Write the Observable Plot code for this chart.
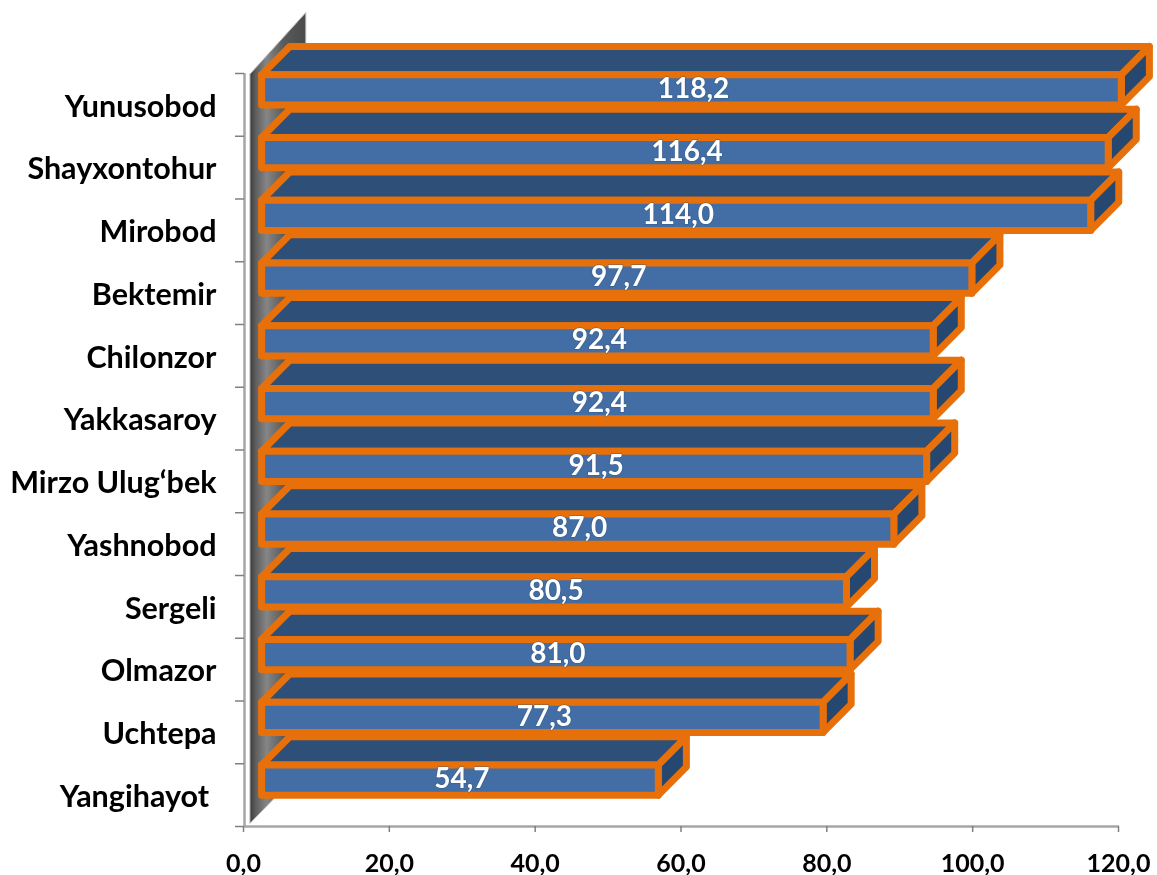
<!DOCTYPE html>
<html><head><meta charset="utf-8">
<script src="https://cdn.jsdelivr.net/npm/d3@7"></script>
<script src="https://cdn.jsdelivr.net/npm/@observablehq/plot@0.6"></script>
<style>
html,body{margin:0;padding:0;background:#fff}
svg{display:block;filter:blur(.4px)}
</style></head><body><div id="chart"></div>
<script>
const categories = ["Yunusobod","Shayxontohur","Mirobod","Bektemir","Chilonzor","Yakkasaroy","Mirzo Ulug‘bek","Yashnobod","Sergeli","Olmazor","Uchtepa","Yangihayot\u00a0"];
const values = [118.2,116.4,114.0,97.7,92.4,92.4,91.5,87.0,80.5,81.0,77.3,54.7];
const xTicks = [0,20,40,60,80,100,120];
const comma = v => v.toFixed(1).replace(".", ",");

// 3-D box geometry in data units
const shiftL = 2.35, shiftR = 2.05, depthX = 3.85, depthY = 0.45, barTop = 0.02, barBot = 0.5;
const poly = (id, pts) => pts.map(([x,y]) => ({id, x, y}));
const bars = values.map((v,i) => ({v, i, l: shiftL, r: v+shiftR, t: i+barTop, b: i+barBot}));
const front = bars.flatMap(b => poly(b.i, [[b.l,b.t],[b.r,b.t],[b.r,b.b],[b.l,b.b],[b.l,b.t]]));
const top3d = bars.flatMap(b => poly(b.i, [[b.l,b.t],[b.l+depthX,b.t-depthY],[b.r+depthX,b.t-depthY],[b.r,b.t],[b.l,b.t]]));
const side = bars.flatMap(b => poly(b.i, [[b.r,b.t],[b.r+depthX,b.t-depthY],[b.r+depthX,b.b-depthY],[b.r,b.b],[b.r,b.t]]));
const wall = poly(0, [[0.75,0.01],[8.4,-0.97],[8.4,11.03],[0.75,11.95],[0.75,0.01]]);

const defs = () => {
  const s = d3.create("svg:defs");
  const g = s.append("linearGradient").attr("id","wallGrad").attr("x1","0").attr("x2","1").attr("y1","0").attr("y2","0");
  [[0,"#3a3a3a"],[0.1,"#5e5e5e"],[0.3,"#858585"],[0.6,"#5a5a5a"],[1,"#4a4a4a"]].forEach(([o,c]) =>
    g.append("stop").attr("offset",o).attr("stop-color",c));
  return s.node();
};

const font = "Lato, 'Open Sans', sans-serif";
const orange = "#E8700A";
const face = (data, fill) => Plot.line(data, {x:"x", y:"y", z:"id", fill, stroke:orange, strokeWidth:7, strokeLinejoin:"round", strokeLinecap:"round"});

const chart = Plot.plot({
  width:1157, height:875, marginTop:73, marginBottom:49, marginLeft:244, marginRight:38,
  style:{background:"#fff", overflow:"visible"},
  x:{domain:[0,120]},
  y:{domain:[0,12], reverse:true},
  marks:[
    defs,
    Plot.line(wall, {x:"x", y:"y", z:"id", fill:"url(#wallGrad)", stroke:"#b5b5b5", strokeWidth:1}),
    Plot.ruleX([0], {y1:0, y2:12, stroke:"#a6a6a6", strokeWidth:2.5}),
    Plot.ruleY([12], {x1:0, x2:120, stroke:"#a6a6a6", strokeWidth:2.5}),
    Plot.axisY({ticks:d3.range(0,13), tickFormat:()=>"", tickSize:9, stroke:"#808080", strokeWidth:1.5, label:null}),
    Plot.axisX({ticks:xTicks, tickFormat:comma, tickSize:6, tickPadding:22, dx:-1, stroke:"#808080", strokeWidth:1.5, label:null, fontSize:25, fontWeight:700, fontFamily:font, fill:"#000", anchor:"bottom"}),
    face(top3d, "#2E5078"),
    face(side, "#264870"),
    face(front, "#436EA5"),
    Plot.text(bars, {x:d=>(d.l+d.r)/2, y:d=>d.i+0.25, dx:2, text:d=>comma(d.v), fill:"#fff", fontSize:28, fontWeight:700, fontFamily:font, textAnchor:"middle", lineAnchor:"middle", stroke:"#2E5078", strokeWidth:1.5, strokeOpacity:.45}),
    Plot.text(categories, {x:0, y:(d,i)=>i+0.53, text:d=>d, dx:-28, textAnchor:"end", lineAnchor:"middle", fill:"#000", fontSize:30.5, fontWeight:700, fontFamily:font})
  ]
});
document.getElementById("chart").append(chart);
</script></body></html>
